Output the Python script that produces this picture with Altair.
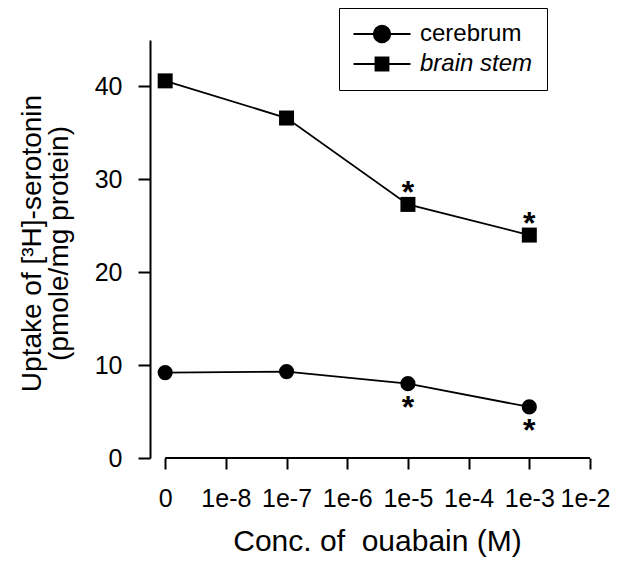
import altair as alt
import pandas as pd

# ---- data ----
tick_labels = ["0", "1e-8", "1e-7", "1e-6", "1e-5", "1e-4", "1e-3", "1e-2"]
conc = ["0", "1e-7", "1e-5", "1e-3"]
cerebrum = [9.2, 9.3, 8.0, 5.5]
brain_stem = [40.6, 36.6, 27.3, 24.0]
cerebrum_sig = [False, False, True, True]
brain_stem_sig = [False, False, True, True]
series_names = ["cerebrum", "brain stem"]
y_ticks = [0, 10, 20, 30, 40]

FONT = "Liberation Sans"

rows = []
for c, v, s in zip(conc, cerebrum, cerebrum_sig):
    rows.append({"series": "cerebrum", "conc": c, "pos": tick_labels.index(c), "uptake": v, "sig": s})
for c, v, s in zip(conc, brain_stem, brain_stem_sig):
    rows.append({"series": "brain stem", "conc": c, "pos": tick_labels.index(c), "uptake": v, "sig": s})
df = pd.DataFrame(rows)

label_array = "[" + ",".join("'" + t + "'" for t in tick_labels) + "]"
last_pos = len(tick_labels) - 1

x_enc = alt.X(
    "pos:Q",
    scale=alt.Scale(domain=[-0.25, last_pos], nice=False, zero=False),
    axis=alt.Axis(
        values=list(range(len(tick_labels))),
        labelExpr=label_array + "[round(datum.value)]",
        domain=False,
        grid=False,
        tickSize=11,
        tickWidth=2,
        tickColor="black",
        labelFont=FONT,
        labelFontSize=25,
        labelColor="black",
        labelBaseline="alphabetic",
        labelPadding=37,
        labelFlush=False,
        labelOverlap=False,
        labelOffset=alt.condition("datum.value == %d" % last_pos, alt.value(-5), alt.value(0)),
        title="Conc. of\u00a0 ouabain (M)",
        titleFont=FONT,
        titleFontSize=30,
        titleFontWeight="normal",
        titleColor="black",
        titleX=227,
        titleY=92,
        titleBaseline="alphabetic",
        titleAlign="center",
    ),
)

y_enc = alt.Y(
    "uptake:Q",
    scale=alt.Scale(domain=[0, 45], nice=False),
    axis=alt.Axis(
        values=y_ticks,
        grid=False,
        domainColor="black",
        domainWidth=2,
        tickSize=12,
        tickWidth=2,
        tickColor="black",
        labelFont=FONT,
        labelFontSize=25,
        labelColor="black",
        labelPadding=16,
        title=["Uptake of [³H]-serotonin", "(pmole/mg protein)"],
        titleFont=FONT,
        titleFontSize=28,
        titleFontWeight="normal",
        titleColor="black",
        titleAngle=270,
        titleAlign="center",
        titleBaseline="alphabetic",
        titleLineHeight=27,
        titleX=-110,
        titleY=203,
    ),
)

circle_path = "M-3.8,0L3.8,0M-1.1,0A1.1,1.1,0,1,1,1.1,0A1.1,1.1,0,1,1,-1.1,0Z"
square_path = "M-3.8,0L3.8,0M-0.87,-0.87L0.87,-0.87L0.87,0.87L-0.87,0.87Z"

legend = alt.Legend(
    title=None,
    orient="none",
    legendX=189,
    legendY=-32,
    strokeColor="black",
    fillColor="white",
    padding=14,
    labelFont=FONT,
    labelFontSize=24,
    labelColor="black",
    labelFontStyle={"expr": "datum.label == 'brain stem' ? 'italic' : 'normal'"},
    labelOffset=26,
    rowPadding=6,
    symbolOffset=17,
    symbolType={"expr": "datum.label == 'cerebrum' ? '" + circle_path + "' : '" + square_path + "'"},
    symbolSize=225,
    symbolStrokeWidth=1.8,
    symbolFillColor="black",
    symbolStrokeColor="black",
)

base = alt.Chart(df)

lines = base.mark_line(strokeWidth=1.8).encode(
    x=x_enc,
    y=y_enc,
    color=alt.Color(
        "series:N",
        scale=alt.Scale(domain=series_names, range=["black", "black"]),
        legend=legend,
    ),
    detail="series:N",
)

circles = base.transform_filter(alt.datum.series == "cerebrum").mark_point(
    shape="circle", filled=True, size=230, color="black", opacity=1
).encode(x="pos:Q", y="uptake:Q")

squares = base.transform_filter(alt.datum.series == "brain stem").mark_point(
    shape="square", filled=True, size=225, color="black", opacity=1
).encode(x="pos:Q", y="uptake:Q")

stars_above = base.transform_filter(
    (alt.datum.series == "brain stem") & alt.datum.sig
).mark_text(
    text="*", font=FONT, fontSize=32, fontWeight="bold", baseline="alphabetic", dy=-1, color="black"
).encode(x="pos:Q", y="uptake:Q")

stars_below = base.transform_filter(
    (alt.datum.series == "cerebrum") & alt.datum.sig
).mark_text(
    text="*", font=FONT, fontSize=32, fontWeight="bold", baseline="alphabetic", dy=34, color="black"
).encode(x="pos:Q", y="uptake:Q")

x_axis_line = alt.Chart(pd.DataFrame({"x0": [0], "x1": [last_pos], "y0": [0]})).mark_rule(
    strokeWidth=2, color="black"
).encode(x="x0:Q", x2="x1:Q", y="y0:Q")

chart = alt.layer(lines, x_axis_line, circles, squares, stars_above, stars_below).properties(
    width=440,
    height=418,
    padding={"left": 142, "top": 32, "right": 20, "bottom": 100},
    autosize=alt.AutoSizeParams(type="none"),
    background="white",
).configure_view(stroke=None)

chart.save("out.html", embed_options={"renderer": "svg", "actions": False})
